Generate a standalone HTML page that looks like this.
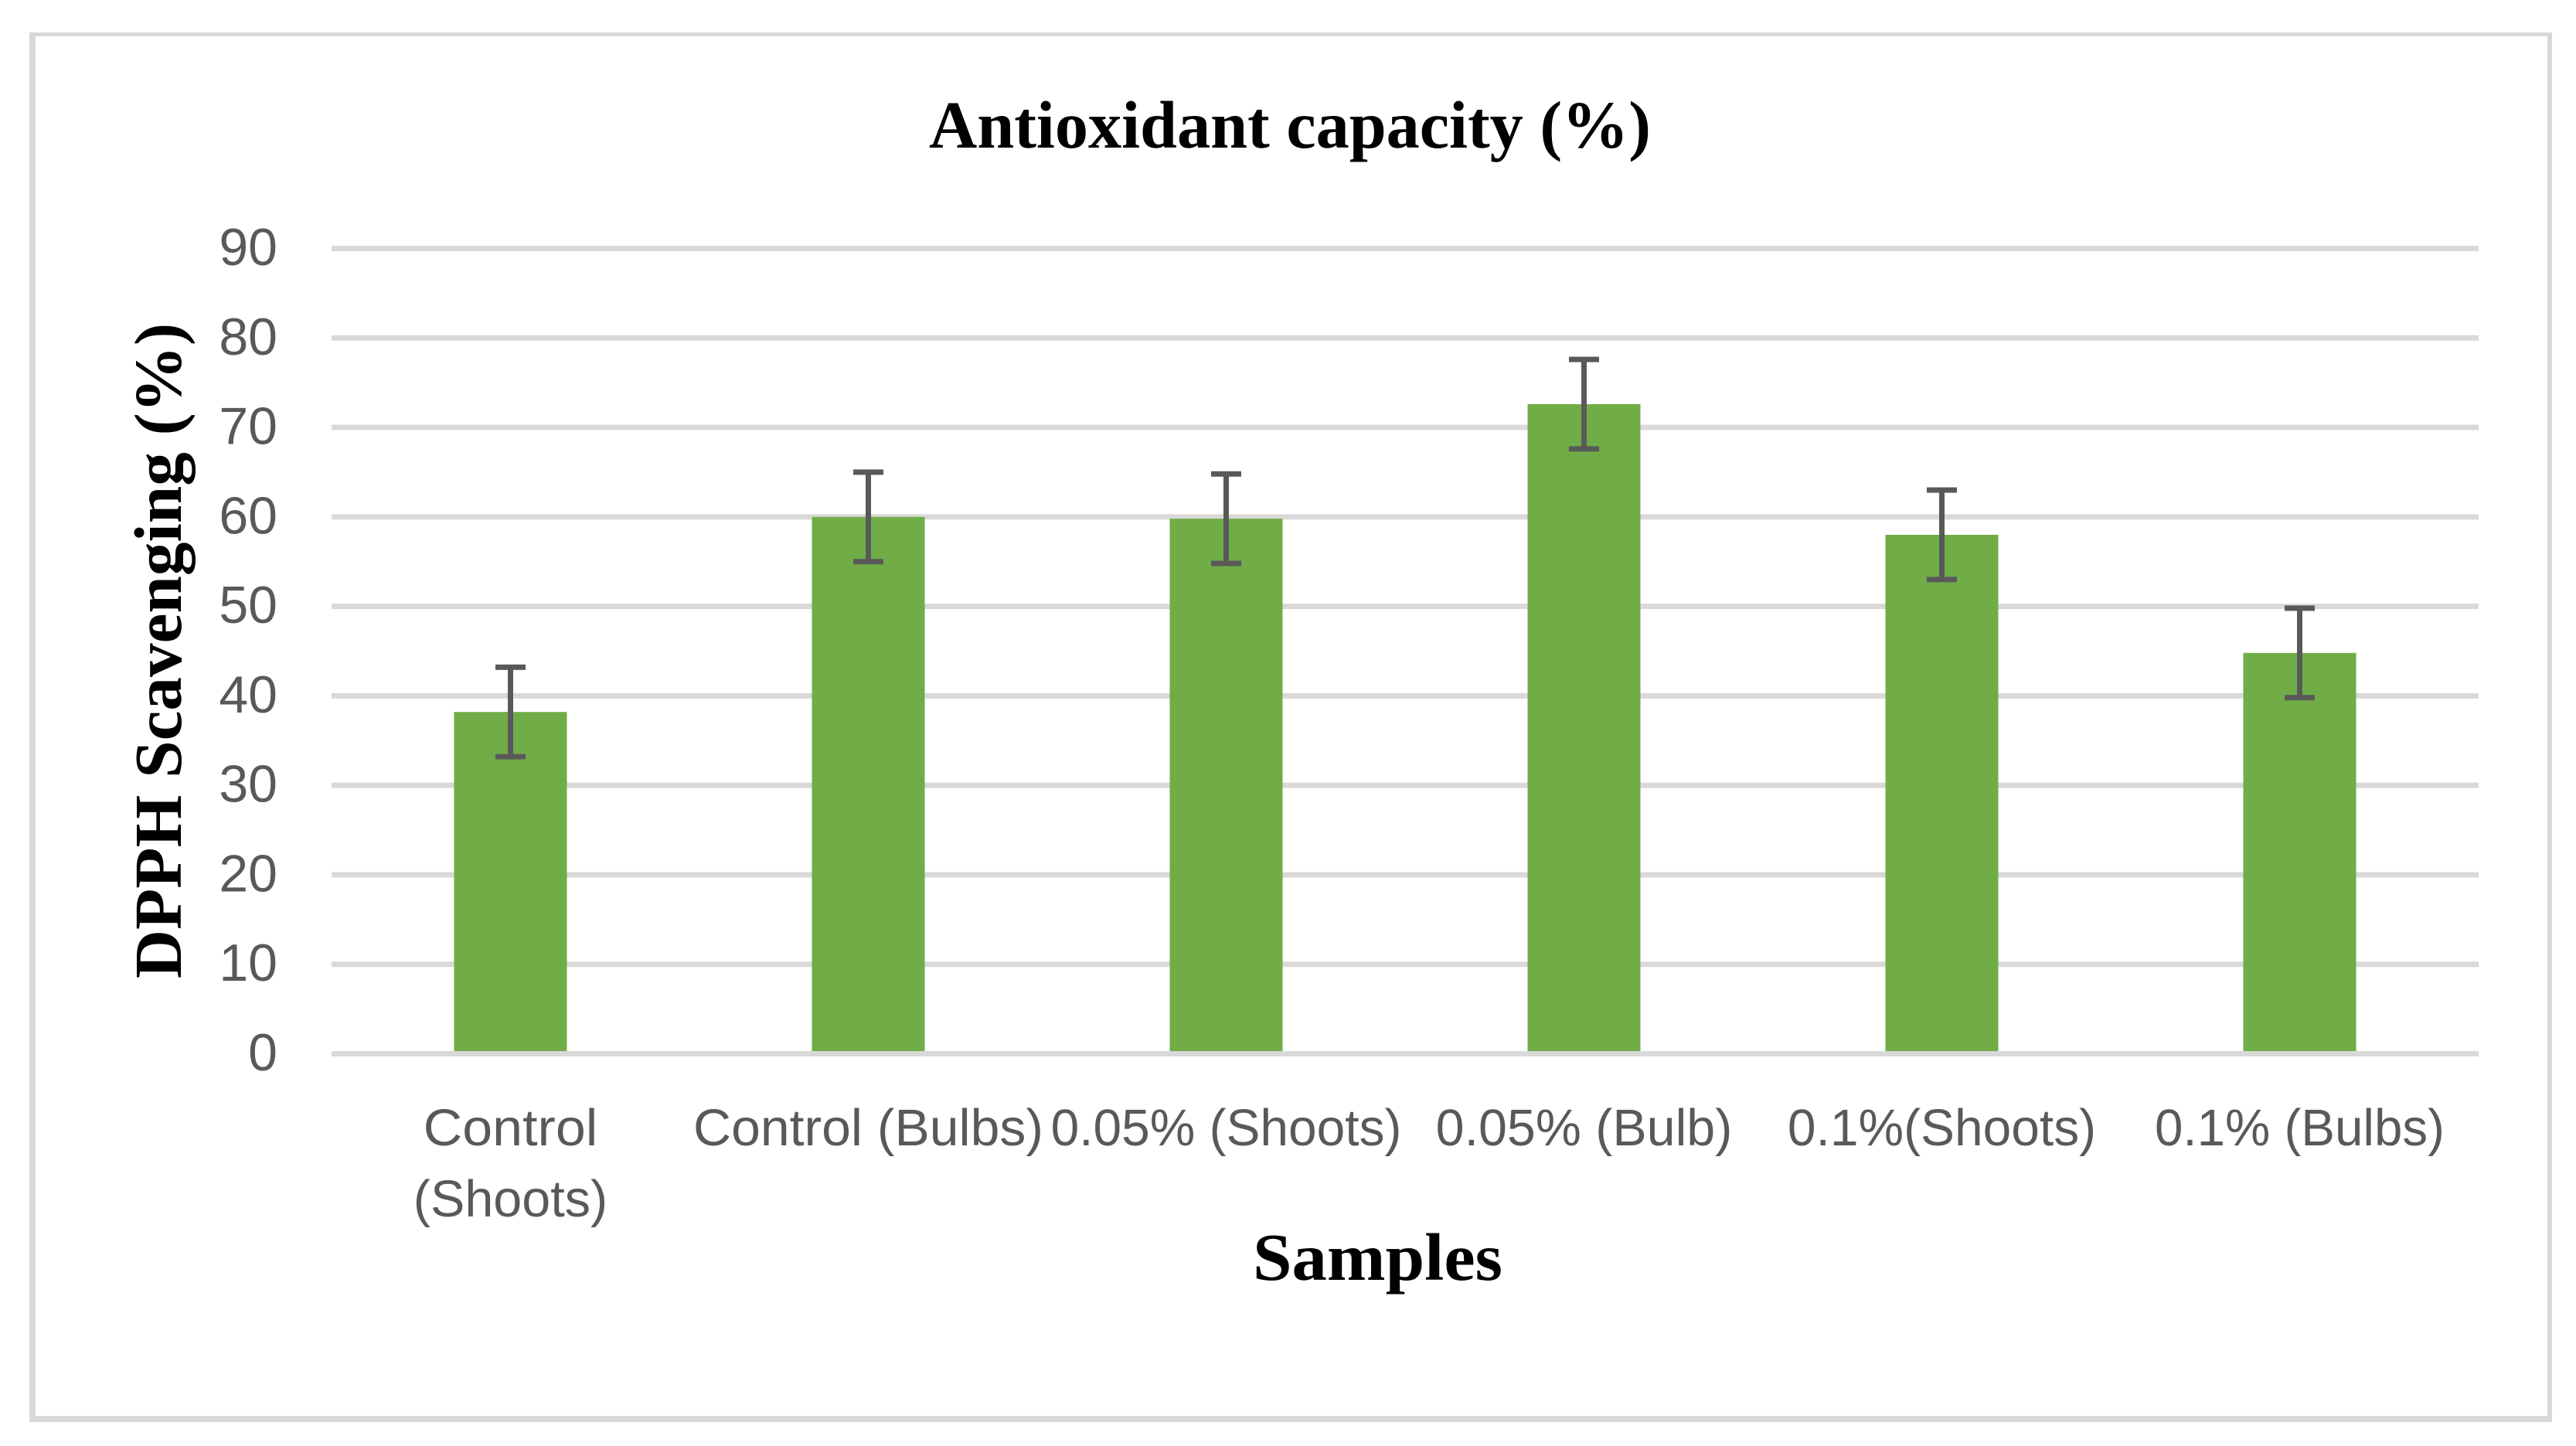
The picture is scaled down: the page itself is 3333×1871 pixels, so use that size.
<!DOCTYPE html>
<html>
<head>
<meta charset="utf-8">
<title>Antioxidant capacity</title>
<style>
html,body{margin:0;padding:0;background:#fff;width:3333px;height:1871px;overflow:hidden}
svg{display:block}
.serif{font-family:"Liberation Serif",serif;font-weight:bold;fill:#000}
.sans{font-family:"Liberation Sans",sans-serif;fill:#595959}
</style>
</head>
<body>
<svg id="chart" xmlns="http://www.w3.org/2000/svg" width="3333" height="1871" viewBox="0 0 3333 1871">
  <rect x="0" y="0" width="3333" height="1871" fill="#fff"/>
  <g fill="#d9d9d9">
    <rect x="38" y="42" width="3264" height="5"/>
    <rect x="38" y="42" width="8" height="1798"/>
    <rect x="3296" y="42" width="6" height="1798"/>
    <rect x="38" y="1832" width="3264" height="8"/>
  </g>
  <text class="serif" x="1202" y="191" font-size="87" textLength="934" lengthAdjust="spacingAndGlyphs">Antioxidant capacity (%)</text>
  <text class="serif" x="1621" y="1656" font-size="87" textLength="323" lengthAdjust="spacingAndGlyphs">Samples</text>
  <text class="serif" transform="translate(234 1266) rotate(-90)" x="0" y="0" font-size="87" textLength="848" lengthAdjust="spacingAndGlyphs">DPPH Scavenging (%)</text>
  <g id="grid"></g>
  <g id="yticks"></g>
  <g id="bars"></g>
  <g id="baseline"></g>
  <g id="errors"></g>
  <g id="xticks"></g>
</svg>
<script>
const categoryLines = [["Control", "(Shoots)"], ["Control (Bulbs)"], ["0.05% (Shoots)"], ["0.05% (Bulb)"], ["0.1%(Shoots)"], ["0.1% (Bulbs)"]];
const dpphValues = [38.2, 60, 59.8, 72.6, 58, 44.8];
const dpphErrors = [5, 5, 5, 5, 5, 5];
const yTickValues = [0, 10, 20, 30, 40, 50, 60, 70, 80, 90];

const NS = "http://www.w3.org/2000/svg";
const plotLeft = 429, plotRight = 3207, zeroY = 1363.5, unitY = 11.578;
const yScale = v => zeroY - v * unitY;
const xScale = i => plotLeft + (plotRight - plotLeft) * (i + 0.5) / categoryLines.length;
const narrowFontSize = 74.6;
const narrowAdvance = {C:.533,o:.527,n:.525,t:.335,r:.349,l:.229," ":.226,"(":.303,")":.303,B:.544,u:.525,b:.525,s:.391,S:.459,h:.525,".":.252,"%":.715};
const narrowWidth = s => [...s].reduce((w, c) => w + (c in narrowAdvance ? narrowAdvance[c] : .507), 0) * narrowFontSize;
function make(tag, parent, attrs) {
  const el = document.createElementNS(NS, tag);
  for (const k in attrs) el.setAttribute(k, attrs[k]);
  parent.appendChild(el);
  return el;
}
const grid = document.getElementById("grid");
const yticks = document.getElementById("yticks");
const bars = document.getElementById("bars");
const baseline = document.getElementById("baseline");
const errors = document.getElementById("errors");
const xticks = document.getElementById("xticks");

yTickValues.forEach(t => {
  const y = yScale(t);
  const parent = t === 0 ? baseline : grid;
  const line = make("rect", parent, {x: plotLeft, y: y - 3.5, width: plotRight - plotLeft, height: 7, fill: "#d9d9d9"});
  
  
  const s = String(t);
  const label = make("text", yticks, {x: 359, y: y + 21.5, "text-anchor": "end", "font-size": 68, class: "sans", textLength: narrowWidth(s), lengthAdjust: "spacingAndGlyphs"});
  
  
  label.textContent = s;
});

const barWidth = 146, capWidth = 39, errStroke = 7;
dpphValues.forEach((v, i) => {
  const cx = xScale(i);
  const top = yScale(v);
  const bar = make("rect", bars, {x: cx - barWidth / 2, y: top, width: barWidth, height: zeroY - top, fill: "#70ad47"});
  
  
  const hi = yScale(v + dpphErrors[i]);
  const lo = yScale(v - dpphErrors[i]);
  const stem = make("rect", errors, {x: cx - errStroke / 2, y: hi, width: errStroke, height: lo - hi, fill: "#595959"});
  
  
  const capTop = make("rect", errors, {x: cx - capWidth / 2, y: hi - errStroke / 2, width: capWidth, height: errStroke, fill: "#595959"});
  
  
  const capBottom = make("rect", errors, {x: cx - capWidth / 2, y: lo - errStroke / 2, width: capWidth, height: errStroke, fill: "#595959"});
  
  
});

categoryLines.forEach((lines, i) => {
  lines.forEach((line, j) => {
    const label = make("text", xticks, {x: xScale(i), y: 1482 + j * 92, "text-anchor": "middle", "font-size": 67, class: "sans", textLength: narrowWidth(line), lengthAdjust: "spacingAndGlyphs"});
    
    
    label.textContent = line;
  });
});
</script>
</body>
</html>
